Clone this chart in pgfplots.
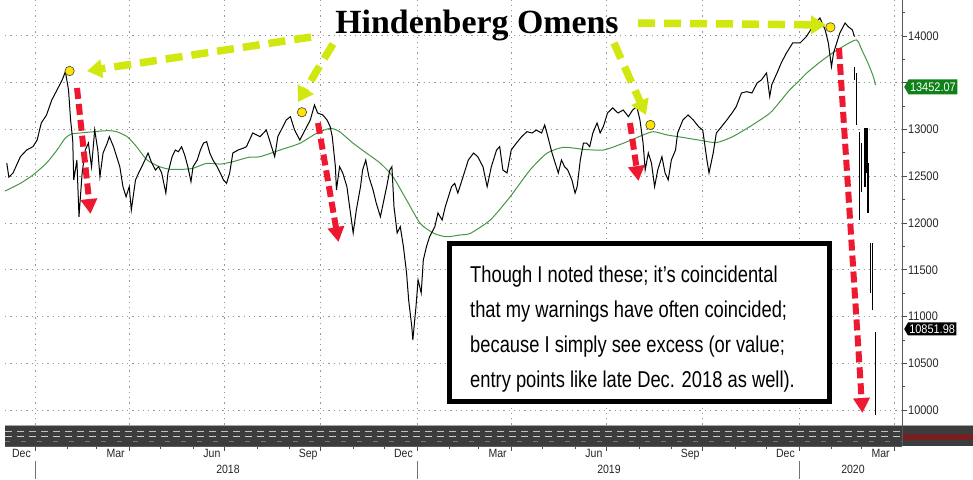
\documentclass[border=0pt]{standalone}
\usepackage{pgfplots}
\pgfplotsset{compat=1.18}
\usepackage{pgfplotstable}
\usetikzlibrary{arrows.meta,shapes.symbols}
\usepackage{fontspec}
\setmainfont{Liberation Sans}
\newfontfamily\titlefont{Liberation Serif}
\newfontfamily\boxfont[FakeStretch=0.8]{Liberation Sans}
\newfontfamily\tickfont[FakeStretch=0.88]{Liberation Sans}

\definecolor{omen}{RGB}{208,232,16}
\definecolor{redarrow}{RGB}{238,24,48}
\definecolor{ma}{RGB}{70,150,70}
\definecolor{dotc}{RGB}{255,228,0}
\definecolor{taggreen}{RGB}{16,128,24}
\definecolor{gridc}{RGB}{150,150,150}
\definecolor{bandc}{RGB}{58,60,62}
\definecolor{bandbrown}{RGB}{150,112,60}
\definecolor{bandred}{RGB}{120,30,30}

% x = days since 1 Jan 2018, y = index level
\pgfplotstableread{
d v
-27 12640
-25 12490
-21 12535
-14 12709
-8 12780
-2 12816
2 12887
6 13070
11 13155
16 13315
21 13422
26 13530
29 13618
32 13422
34 13100
36 12887
37 12460
40 12673
42 12067
45 12535
48 12780
51 12855
54 12600
57 12994
60 12780
62 12495
65 12748
69 12855
71 12923
75 12816
78 12709
81 12602
84 12388
87 12281
90 12388
92 12139
96 12460
99 12535
102 12602
105 12673
108 12748
111 12655
115 12567
118 12602
121 12535
125 12320
127 12535
131 12709
134 12780
137 12762
140 12816
143 12727
146 12602
149 12442
151 12602
155 12673
158 12780
161 12855
164 12869
167 12748
170 12673
174 12602
177 12535
180 12460
183 12424
186 12535
189 12748
194 12780
199 12800
202 12816
208 12962
215 12923
221 12994
226 12816
229 12709
232 12923
236 13012
240 13101
244 13137
248 12994
253 12887
258 12994
263 13101
267 13262
270 13176
275 13155
279 13101
282 13030
284 12923
287 12602
288 12353
291 12602
294 12535
298 12388
301 12139
304 11893
307 12139
311 12388
313 12567
316 12673
319 12495
323 12353
326 12214
330 12067
332 12174
336 12388
339 12567
341 12602
343 12174
346 11893
349 11960
352 11747
355 11465
357 11177
360 10891
361 10749
364 11106
366 11391
369 11252
371 11604
374 11747
377 11853
382 11960
385 12107
389 12032
392 12174
395 12281
398 12388
401 12424
404 12320
409 12495
414 12673
419 12748
423 12709
428 12602
432 12388
436 12602
441 12780
444 12816
447 12567
451 12535
455 12780
460 12855
465 12923
470 12976
475 12962
479 12994
484 12962
487 13048
490 12923
494 12748
497 12641
500 12535
503 12673
506 12602
509 12567
513 12460
516 12320
518 12388
521 12673
524 12855
527 12855
530 12816
533 12962
537 13069
540 12962
543 13030
547 13176
552 13230
557 13176
562 13208
567 13137
571 13208
575 13244
578 13101
581 12855
583 12567
586 12748
589 12641
592 12388
595 12567
599 12709
602 12535
605 12460
608 12673
612 12780
614 12962
619 13101
624 13155
629 13101
634 13030
638 12994
642 12673
644 12535
648 12748
651 12962
656 13030
661 13101
666 13176
670 13244
675 13390
680 13404
685 13390
690 13497
694 13529
699 13604
702 13352
704 13480
709 13604
713 13711
718 13818
724 13925
731 13925
737 13992
743 14099
750 14192
755 14064
758 13925
761 13671
763 13818
766 13925
769 14031
774 14138
777 14099
781 14064
783 13992
}\price

% daily high-low bars of the late-February / March 2020 sell-off
\pgfplotstableread{
d v
783 13668
783 13530
784 nan
785 13604
785 13048
786 nan
788 12973
788 12032
789 nan
790 12855
790 12331
791 nan
793 13016
793 12385
794 nan
795 13016
795 12535
795.5 nan
796 12641
796 12107
797 nan
798 11786
798 11252
799 nan
800 11786
800 11070
801 nan
803 10835
803 9950
}\bars

\pgfplotstableread{
d v
-29 12340
-14 12424
-2 12513
11 12641
21 12780
29 12909
35 12952
43 12962
56 12976
69 12987
78 12976
88 12923
97 12816
107 12673
119 12602
129 12574
141 12574
151 12585
164 12638
177 12630
189 12655
204 12702
215 12709
234 12780
253 12852
269 12959
282 13012
291 12976
304 12852
317 12745
330 12638
342 12495
355 12246
368 11996
381 11890
393 11853
406 11872
416 11890
435 12032
454 12281
473 12567
489 12745
505 12809
524 12788
543 12780
562 12852
581 12941
591 12976
604 12941
619 12915
635 12885
651 12860
666 12920
683 13030
702 13173
712 13300
721 13422
731 13529
737 13600
750 13720
762 13818
774 13900
785 13957
790 13850
796 13707
801 13564
803 13475
}\mavg

\pgfplotstableread{
d v
33 13625
255 13184
588 13048
760 14092
}\omens

\begin{document}
\begin{tikzpicture}
\path[use as bounding box] (0,0) rectangle (973bp,480bp);
\begin{axis}[
  at={(5bp,34bp)}, anchor=south west,
  scale only axis, width=897bp, height=446bp,
  xmin=-28.7, xmax=828.4, ymin=9616, ymax=14384,
  axis x line*=bottom, axis y line*=right,
  axis line style={black!65, line width=0.8bp},
  xtick pos=bottom, ytick pos=right, yticklabel pos=right,
  tick align=outside,
  xtick={0,90,181,273,365,455,546,638,730,821},
  xticklabels={},
  minor xtick={31,59,120,151,212,243,304,334,396,424,485,516,577,608,669,699,761,790},
  extra x ticks={-13,77,169,261,352,442,534,626,717,808},
  extra x tick labels={Dec,Mar,Jun,Sep,Dec,Mar,Jun,Sep,Dec,Mar},
  extra x tick style={grid=none, major tick length=0pt,
    xticklabel style={font=\tickfont\fontsize{12}{13}\selectfont, text=black!85, inner sep=0pt, anchor=north, yshift=-3bp}},
  ytick={10000,10500,...,14000},
  yticklabels={10000,10500,11000,11500,12000,12500,13000,{},14000},
  minor ytick={10250,10750,...,14250},
  yticklabel style={font=\tickfont\fontsize{12.5}{14}\selectfont, text=black!85, inner sep=1bp},
  grid=major,
  major grid style={gridc, line width=0.9bp, dash pattern=on 1.3bp off 4bp},
  major tick length=5bp, minor tick length=3bp,
  tick style={black!70, line width=0.8bp},
]
\addplot[ma, line width=1bp, smooth, tension=0.4] table[x=d,y=v]{\mavg};
\addplot[black, line width=1bp] table[x=d,y=v]{\price};
\addplot[black, line width=1.3bp, unbounded coords=jump] table[x=d,y=v]{\bars};
\addplot[only marks, mark=*, mark size=4.7bp,
  mark options={fill=dotc, draw=black!75, line width=0.6bp}] table[x=d,y=v]{\omens};
\end{axis}

\begin{scope}[x=1bp, y=-1bp, yshift=480bp]
% lower panel band
\fill[bandc] (5,425) rectangle (973,446);
\draw[black!35, line width=0.6bp] (5,425.5) -- (973,425.5);
\draw[black!25, line width=0.7bp, dash pattern=on 7bp off 5bp] (5,431) -- (902,431);
\draw[black!20, line width=0.7bp, dash pattern=on 7bp off 5bp] (5,436) -- (902,436);
\draw[bandbrown, line width=0.9bp, dash pattern=on 5bp off 11bp] (5,441) -- (902,441);
\fill[bandred] (902,434) rectangle (973,440);
\draw[black!65, line width=0.8bp] (902,0) -- (902,446);
% year separators and labels
\foreach \xx in {35,417,799} \draw[black!55, line width=0.6bp] (\xx,461) -- (\xx,479);
\node[font=\tickfont\fontsize{12}{13}\selectfont, text=black!85] at (228,469) {2018};
\node[font=\tickfont\fontsize{12}{13}\selectfont, text=black!85] at (609,469) {2019};
\node[font=\tickfont\fontsize{12}{13}\selectfont, text=black!85] at (853,469) {2020};
% price tags
\node[signal, signal to=west, signal pointer angle=120, fill=taggreen, text=white,
  font=\tickfont\fontsize{12.5}{13}\selectfont, inner sep=1.5bp, minimum height=15bp, anchor=west] at (904,87) {13452.07};
\node[signal, signal to=west, signal pointer angle=120, fill=black, text=white,
  font=\tickfont\fontsize{12.5}{13}\selectfont, inner sep=1.3bp, minimum height=13bp, anchor=west] at (904,329) {10851.98};
% title
\node[font=\titlefont\bfseries\fontsize{34}{34}\selectfont, anchor=base] at (477,34) {Hindenberg Omens};
% yellow-green arrows
\begin{scope}[omen, line width=7.5bp, dash pattern=on 17bp off 9bp]
\draw[-{Triangle[width=18bp,length=15bp]}] (311,37) -- (87,71);
\draw[-{Triangle[width=18bp,length=15bp]}] (333,44) -- (298,102);
\draw[-{Triangle[width=18bp,length=15bp]}] (614,43) -- (646,115);
\draw[-{Triangle[width=18bp,length=15bp]}] (638,23) -- (826,25);
\end{scope}
% red arrows
\begin{scope}[redarrow, line width=6bp, dash pattern=on 11bp off 5bp]
\draw[-{Triangle[width=16bp,length=15bp]}] (77,88) -- (90.5,214);
\draw[-{Triangle[width=16bp,length=15bp]}] (318,123) -- (338.5,242);
\draw[-{Triangle[width=16bp,length=15bp]}] (630,123) -- (638.5,181);
\draw[-{Triangle[width=16bp,length=15bp]}] (839,48) -- (862.5,413);
\end{scope}
% text box
\draw[black, line width=5bp, fill=white] (449.5,243.5) rectangle (829.5,401.5);
\begin{scope}[every node/.style={font=\boxfont\fontsize{23}{23}\selectfont, anchor=base west, inner sep=0pt}]
\node at (470,283) {Though I noted these; it’s coincidental};
\node at (470,318) {that my warnings have often coincided;};
\node at (470,353) {because I simply see excess (or value;};
\node at (470,388) {entry points like late Dec. 2018 as well).};
\end{scope}
\end{scope}
\end{tikzpicture}
\end{document}
